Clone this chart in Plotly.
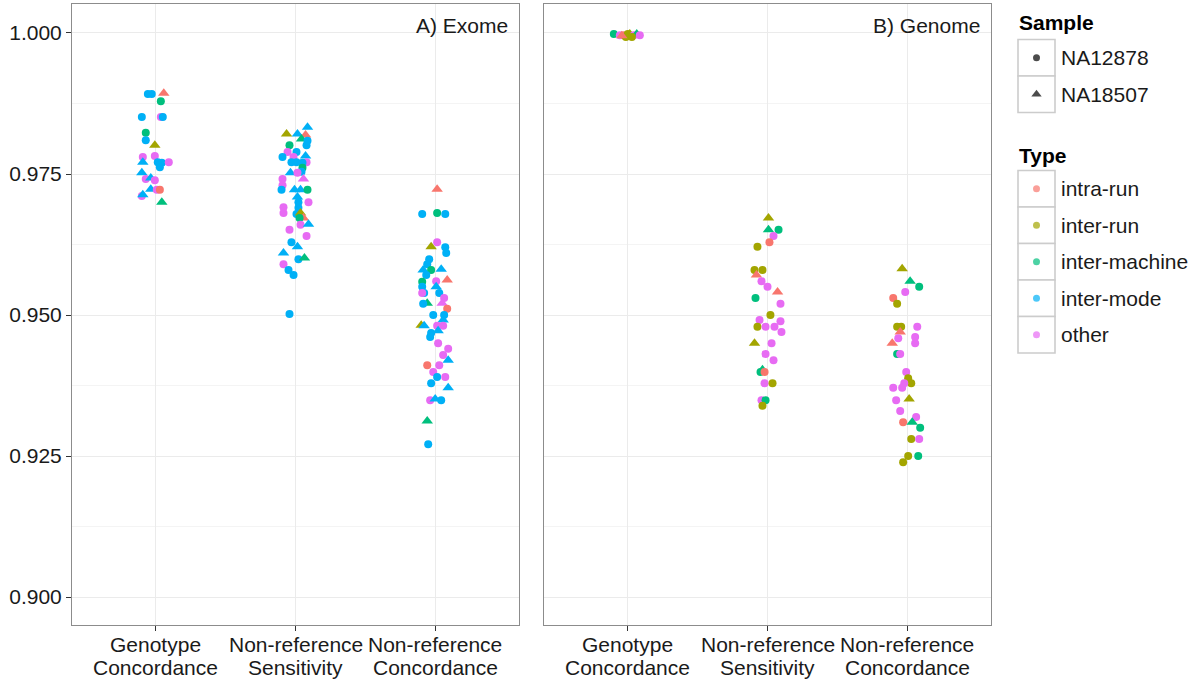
import plotly.graph_objects as go

# ---------------- data ----------------
TYPE_NAMES = ["intra-run", "inter-run", "inter-machine", "inter-mode", "other"]
TYPE_CODE = {"a": "intra-run", "b": "inter-run", "c": "inter-machine", "d": "inter-mode", "e": "other"}
SAMPLE_NAMES = ["NA12878", "NA18507"]
SAMPLE_CODE = {"o": "NA12878", "^": "NA18507"}
CATEGORIES = ["Genotype<br>Concordance", "Non-reference<br>Sensitivity", "Non-reference<br>Concordance"]
PANELS = ["A) Exome", "B) Genome"]
Y_TICKS = [0.900, 0.925, 0.950, 0.975, 1.000]

# Exome - Genotype Concordance
exome_gc_value = [.9892, .9892, .9893, .9879, .9851, .9851, .9851, .9823, .9810, .9801, .9780, .9782, .9771, .9771,
                  .9770, .9762, .9771, .9752, .9741, .9743, .9739, .9723, .9722, .9722, .9711, .9713, .9700]
exome_gc_jitter = [-0.057, -0.029, 0.057, 0.036, -0.100, 0.036, 0.050, -0.072, -0.072, -0.007, -0.093, -0.007, -0.093,
                   0.014, 0.043, 0.029, 0.093, -0.100, -0.072, -0.036, -0.007, -0.036, 0.007, 0.029, -0.100, -0.093, 0.043]
exome_gc_type = "d d a c d e d c d b e e d d d d e d e d e d e a e d c".split()
exome_gc_sample = "o o ^ o o o o o o ^ o o ^ o o o o ^ o ^ o ^ o o o ^ ^".split()

# Exome - Non-reference Sensitivity
exome_nrs_value = [.9821, .9821, .9833, .9819, .9812, .9809, .9801, .9801, .9789, .9789, .9780, .9780, .9782, .9771,
                   .9771, .9771, .9770, .9761, .9754, .9752, .9752, .9741, .9741, .9730, .9722, .9722, .9722, .9722,
                   .9709, .9700, .9700, .9691, .9681, .9690, .9679, .9681, .9672, .9672, .9660, .9661, .9651, .9640,
                   .9629, .9621, .9610, .9599, .9601, .9590, .9580, .9571, .9502]
exome_nrs_jitter = [-0.064, 0.014, 0.086, 0.072, 0.043, 0.086, 0.079, -0.043, -0.057, 0.007, -0.093, -0.014, 0.072,
                    0.079, -0.029, 0.007, 0.050, 0.050, 0.043, -0.036, 0.014, 0.057, -0.093, -0.093, -0.100, -0.007,
                    0.036, 0.086, 0.014, 0.093, 0.021, -0.086, -0.086, 0.021, 0.007, 0.036, 0.057, 0.029, 0.036,
                    0.093, -0.043, 0.079, -0.029, 0.014, -0.086, 0.021, 0.064, -0.086, -0.050, -0.014, -0.043]
exome_nrs_type = ("b d d a c d d c e d d e d e d d d c d d e e e e d d d c d e d e e d d b a c e d e e d d d d c e d d d"
                  ).split()
exome_nrs_sample = ("^ ^ ^ ^ ^ o o o o o o o ^ o o o o o o ^ o ^ o o o ^ ^ o ^ o o o o o o ^ ^ o o ^ o o o ^ ^ o ^ o o o o"
                    ).split()

# Exome - Non-reference Concordance
exome_nrc_value = [.9723, .9679, .9681, .9679, .9629, .9621, .9620, .9610, .9599, .9590, .9580, .9580, .9581, .9571,
                   .9560, .9562, .9559, .9550, .9539, .9550, .9539, .9539, .9530, .9521, .9520, .9521, .9511, .9500,
                   .9500, .9491, .9482, .9481, .9481, .9481, .9472, .9468, .9461, .9450, .9440, .9429, .9420, .9411,
                   .9411, .9399, .9390, .9390, .9379, .9371, .9349, .9351, .9349, .9312, .9271]
exome_nrc_jitter = [0.014, -0.093, 0.014, 0.072, 0.014, -0.029, 0.072, 0.079, -0.043, -0.057, -0.086, -0.029, 0.043,
                    -0.064, 0.007, 0.086, -0.093, -0.093, -0.079, 0.007, 0.029, -0.093, 0.064, -0.057, -0.086, 0.050,
                    0.086, -0.014, 0.064, 0.057, -0.100, -0.079, 0.014, 0.057, 0.021, -0.029, -0.036, 0.021, 0.093,
                    0.057, 0.093, -0.057, 0.029, -0.014, 0.014, 0.072, -0.029, 0.093, -0.036, 0.0, 0.043, -0.057, -0.050]
exome_nrc_type = ("a d c d e b d d d d d c d d e a c d d d d e e c d e a d d d b d e e d d d e e e d a e e d e d d e d d c d"
                  ).split()
exome_nrc_sample = ("^ o o o o ^ o o o o ^ o ^ o o ^ o o o ^ o o o ^ o ^ o o o ^ ^ ^ o o ^ o o o o o ^ o o o o o o ^ o ^ o ^ o"
                    ).split()

# Genome - Genotype Concordance
genome_gc_value = [.9998, .9996, .9996, .9998, .9998, .9996, .9998, .9996, .9993, .9993, .9995]
genome_gc_jitter = [-0.100, -0.057, -0.029, 0.0, 0.014, 0.043, 0.064, 0.086, -0.014, 0.029, -0.043]
genome_gc_type = "c e a b b e c e b b a".split()
genome_gc_sample = "o o o o ^ o ^ o o o ^".split()

# Genome - Non-reference Sensitivity
genome_nrs_value = [.9672, .9651, .9651, .9640, .9629, .9621, .9580, .9580, .9571, .9560, .9550, .9541, .9530, .9520,
                    .9500, .9491, .9489, .9479, .9479, .9479, .9470, .9450, .9450, .9431, .9420, .9403, .9399, .9399,
                    .9379, .9379, .9349, .9349, .9339]
genome_nrs_jitter = [0.007, 0.007, 0.079, 0.043, 0.014, -0.072, -0.093, -0.036, -0.079, -0.043, 0.0, 0.072, -0.086,
                     0.093, 0.021, -0.057, 0.093, -0.072, -0.014, 0.050, 0.100, -0.093, 0.029, -0.014, 0.043, -0.036,
                     -0.050, -0.021, -0.021, 0.036, -0.043, -0.014, -0.036]
genome_nrs_type = "b c c e a b b b a e e a c e b e e b e e e b e e e c c a e b e c b".split()
genome_nrs_sample = "^ ^ o o o o o o ^ o o ^ o o o o o o o o o ^ o o o ^ o o o o o o o".split()

# Genome - Non-reference Concordance
genome_nrc_value = [.9582, .9560, .9550, .9541, .9530, .9520, .9479, .9479, .9479, .9470, .9459, .9461, .9450, .9450,
                    .9431, .9431, .9399, .9388, .9379, .9379, .9371, .9371, .9349, .9351, .9330, .9319, .9310, .9310,
                    .9300, .9280, .9280, .9250, .9250, .9239]
genome_nrc_jitter = [-0.036, 0.021, 0.086, -0.014, -0.100, -0.072, -0.072, -0.043, 0.072, -0.050, -0.064, 0.057, 0.057,
                     -0.107, -0.072, -0.050, -0.007, 0.007, 0.029, -0.021, -0.100, -0.036, -0.079, 0.014, -0.050, 0.064,
                     -0.029, 0.036, 0.093, 0.029, 0.086, 0.007, 0.079, -0.029]
genome_nrc_type = "b c c e a b b b e a e e e a c e e b b e e e e b e e a c c b e b c b".split()
genome_nrc_sample = "^ ^ o o o o o o o ^ o o o ^ o o o o o o o o o ^ o o o ^ o o o o o o".split()

# ---------------- styling ----------------
COLORS = {"intra-run": "#F8766D", "inter-run": "#A3A500", "inter-machine": "#00BF7D",
          "inter-mode": "#00B0F6", "other": "#E76BF3"}
SYMBOLS = {"NA12878": "circle", "NA18507": "triangle-up"}
SIZES = {"NA12878": 8, "NA18507": 10}
FONT = "Liberation Sans, Arial, Helvetica, sans-serif"
TXT = "#1a1a1a"
BORDER = "#8c8c8c"
GRID = "#EBEBEB"
MINOR = "#F4F4F4"

W, H = 1200, 684
ML, MR, MT, MB = 72, 0, 4, 59
PW = W - ML - MR
PH = H - MT - MB
PANEL_W = 447
GAP = 25

def xdom(i):
    x0 = i * (PANEL_W + GAP)
    return [x0 / PW, (x0 + PANEL_W) / PW]

clusters = [
    (0, 0, exome_gc_value, exome_gc_jitter, exome_gc_type, exome_gc_sample),
    (0, 1, exome_nrs_value, exome_nrs_jitter, exome_nrs_type, exome_nrs_sample),
    (0, 2, exome_nrc_value, exome_nrc_jitter, exome_nrc_type, exome_nrc_sample),
    (1, 0, genome_gc_value, genome_gc_jitter, genome_gc_type, genome_gc_sample),
    (1, 1, genome_nrs_value, genome_nrs_jitter, genome_nrs_type, genome_nrs_sample),
    (1, 2, genome_nrc_value, genome_nrc_jitter, genome_nrc_type, genome_nrc_sample),
]

fig = go.Figure()
for panel, cat, vals, jit, typ, smp in clusters:
    types = [TYPE_CODE[t] for t in typ]
    samples = [SAMPLE_CODE[s] for s in smp]
    fig.add_trace(go.Scatter(
        x=[cat + 1 + j for j in jit], y=vals, mode="markers",
        xaxis="x" if panel == 0 else "x2", yaxis="y" if panel == 0 else "y2",
        marker=dict(color=[COLORS[t] for t in types], symbol=[SYMBOLS[s] for s in samples],
                    size=[SIZES[s] for s in samples], line=dict(width=0), opacity=1),
        showlegend=False, hoverinfo="skip"))

yrange = [0.89504, 1.00514]
axis_common = dict(showline=True, mirror=True, linecolor=BORDER, linewidth=1, zeroline=False,
                   gridcolor=GRID, gridwidth=1, automargin=False)
xcommon = dict(axis_common, range=[0.4, 3.6], tickmode="array", tickvals=[1, 2, 3],
               showticklabels=False, ticks="outside", ticklen=5, tickcolor="#333333")
ycommon = dict(axis_common, range=yrange, tickmode="array", tickvals=Y_TICKS,
               ticktext=["%.3f" % v for v in Y_TICKS], domain=[0, 1],
               minor=dict(tickmode="array", tickvals=[0.8875, 0.9125, 0.9375, 0.9625, 0.9875],
                          showgrid=True, gridcolor=MINOR, ticks=""))

fig.update_layout(
    width=W, height=H, margin=dict(l=ML, r=MR, t=MT, b=MB, autoexpand=False),
    paper_bgcolor="white", plot_bgcolor="white",
    font=dict(family=FONT, size=21, color=TXT),
    showlegend=False,
    xaxis=dict(xcommon, domain=xdom(0), anchor="y"),
    xaxis2=dict(xcommon, domain=xdom(1), anchor="y2"),
    yaxis=dict(ycommon, anchor="x", ticks="outside", ticklen=5, tickcolor="#333333",
               tickfont=dict(family=FONT, size=21, color=TXT)),
    yaxis2=dict(ycommon, anchor="x2", matches="y", showticklabels=False, ticks=""),
    # legend area axis in pixel-like units
    xaxis3=dict(domain=[(1000 - ML) / PW, 1], range=[1000, 1200], visible=False, fixedrange=True),
    yaxis3=dict(domain=[0, 1], range=[H - MB, MT], visible=False, fixedrange=True, anchor="x3"),
)

# x category labels (two lines each) as annotations below each panel
for i in range(2):
    for c, lab in enumerate(CATEGORIES):
        for k, line in enumerate(lab.split("<br>")):
            fig.add_annotation(text=line, xref="x" if i == 0 else "x2", yref="paper",
                               x=c + 1, y=-(19 + 23 * k) / PH, xanchor="center", yanchor="middle",
                               showarrow=False, font=dict(family=FONT, size=21, color=TXT))

# panel labels
for i, lab in enumerate(PANELS):
    fig.add_annotation(text=lab, xref="x domain" if i == 0 else "x2 domain",
                       yref="y domain" if i == 0 else "y2 domain",
                       x=1 - 9 / PANEL_W, y=1 - 21 / PH, xanchor="right", yanchor="middle",
                       showarrow=False, font=dict(family=FONT, size=21, color=TXT))

# ---------------- manual legend ----------------
KEY_X0, KEY_X1 = 1018, 1055
KEY_H = 36.5
def legend_block(title, title_y, top, labels, colors, symbols, sizes):
    fig.add_annotation(text="<b>%s</b>" % title, xref="x3", yref="y3", x=KEY_X0 - 1, y=title_y,
                       xanchor="left", yanchor="middle", showarrow=False,
                       font=dict(family=FONT, size=21, color="#000000"))
    ys = []
    for k, lab in enumerate(labels):
        y0 = top + k * KEY_H
        fig.add_shape(type="rect", xref="x3", yref="y3", x0=KEY_X0, x1=KEY_X1, y0=y0, y1=y0 + KEY_H,
                      line=dict(color="#CCCCCC", width=1.6), fillcolor="white", layer="below")
        yc = y0 + KEY_H / 2
        ys.append(yc)
        fig.add_annotation(text=lab, xref="x3", yref="y3", x=KEY_X1 + 4, y=yc, xanchor="left",
                           yanchor="middle", showarrow=False, font=dict(family=FONT, size=21, color=TXT))
    fig.add_trace(go.Scatter(x=[(KEY_X0 + KEY_X1) / 2] * len(labels), y=ys, mode="markers",
                             xaxis="x3", yaxis="y3", showlegend=False, hoverinfo="skip",
                             marker=dict(color=colors, symbol=symbols, size=sizes, line=dict(width=0))))

legend_block("Sample", 22, 39.5, SAMPLE_NAMES, ["#000000"] * 2,
             [SYMBOLS[s] for s in SAMPLE_NAMES], [7, 9])
legend_block("Type", 155, 170.5, TYPE_NAMES, [COLORS[t] for t in TYPE_NAMES],
             ["circle"] * len(TYPE_NAMES), [7] * len(TYPE_NAMES))

fig.write_html("out.html", config={"displayModeBar": False},
               post_script="document.body.style.margin='0px';document.body.style.padding='0px';")
